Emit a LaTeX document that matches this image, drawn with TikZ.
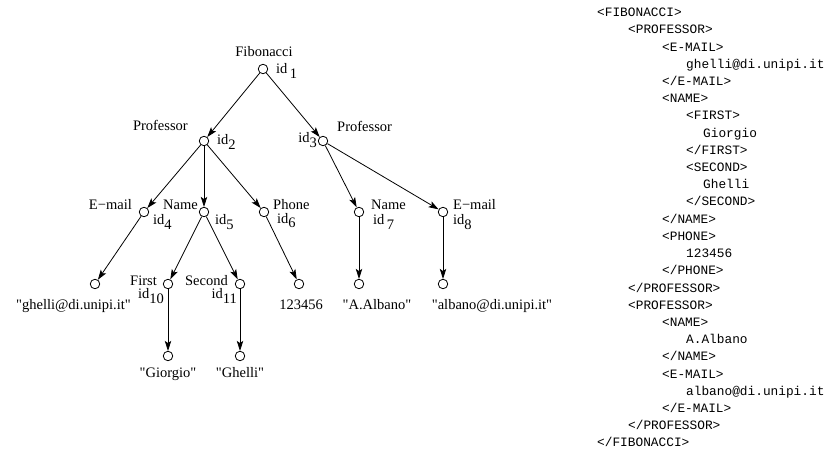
\documentclass[tikz,border=0pt]{standalone}
\usepackage{fontspec}
\setmainfont{Liberation Serif}[Ligatures=TeXOff]
\setmonofont{Liberation Mono}
\usetikzlibrary{arrows.meta}

% identifier with a lowered index
\newcommand{\idn}[1]{id\raisebox{-5pt}{#1}}
\newcommand{\idsp}[1]{id\,\raisebox{-5pt}{#1}}

\begin{document}
\begin{tikzpicture}[x=1pt,y=-1pt,
  vtx/.style={circle,draw,line width=0.8pt,minimum size=9.5pt,inner sep=0pt},
  edge/.style={line width=0.8pt,-{Stealth[length=10pt,width=6.5pt,inset=2.2pt]}},
  lbl/.style={inner sep=0pt,font=\fontsize{14.5}{17}\selectfont},
  xml/.style={inner sep=0pt,anchor=base west,font=\ttfamily\fontsize{12.8}{15}\selectfont}]
\useasboundingbox (0,0) rectangle (827,457);

% tree vertices
\node[vtx] (n1)  at (263,69)  {};
\node[vtx] (n2)  at (204,141) {};
\node[vtx] (n3)  at (323,141) {};
\node[vtx] (n4)  at (144,212) {};
\node[vtx] (n5)  at (204,212) {};
\node[vtx] (n6)  at (264,212) {};
\node[vtx] (n7)  at (359,212) {};
\node[vtx] (n8)  at (443,212) {};
\node[vtx] (v4)  at (95,284)  {};
\node[vtx] (n10) at (168,284) {};
\node[vtx] (n11) at (240,284) {};
\node[vtx] (v6)  at (299,284) {};
\node[vtx] (v7)  at (359,284) {};
\node[vtx] (v8)  at (443,284) {};
\node[vtx] (v10) at (168,356) {};
\node[vtx] (v11) at (240,356) {};

% tree edges
\draw[edge] (n1) -- (n2);
\draw[edge] (n1) -- (n3);
\draw[edge] (n2) -- (n4);
\draw[edge] (n2) -- (n5);
\draw[edge] (n2) -- (n6);
\draw[edge] (n3) -- (n7);
\draw[edge] (n3) -- (n8);
\draw[edge] (n4) -- (v4);
\draw[edge] (n5) -- (n10);
\draw[edge] (n5) -- (n11);
\draw[edge] (n6) -- (v6);
\draw[edge] (n7) -- (v7);
\draw[edge] (n8) -- (v8);
\draw[edge] (n10) -- (v10);
\draw[edge] (n11) -- (v11);

% tags and identifiers
\node[lbl,anchor=base]      (t1)  at (264,57)  {Fibonacci};
\node[lbl,anchor=base west] (i1)  at (276,74)  {\idsp{1}};
\node[lbl,anchor=base east] (t2)  at (188,131) {Professor};
\node[lbl,anchor=base west] (i2)  at (217,145) {\idn{2}};
\node[lbl,anchor=base east] (i3)  at (317,143) {\idn{3}};
\node[lbl,anchor=base west] (t3)  at (337,132) {Professor};
\node[lbl,anchor=base east] (t4)  at (132,210) {E−mail};
\node[lbl,anchor=base west] (i4)  at (153,225) {\idn{4}};
\node[lbl,anchor=base east] (t5)  at (198,210) {Name};
\node[lbl,anchor=base west] (i5)  at (215,225) {\idn{5}};
\node[lbl,anchor=base west] (t6)  at (273,210) {Phone};
\node[lbl,anchor=base west] (i6)  at (277,223) {\idn{6}};
\node[lbl,anchor=base west] (t7)  at (371,210) {Name};
\node[lbl,anchor=base west] (i7)  at (373,224.5) {\idsp{7}};
\node[lbl,anchor=base west] (t8)  at (453,210) {E−mail};
\node[lbl,anchor=base west] (i8)  at (453,224.5) {\idn{8}};
\node[lbl,anchor=base east] (t10) at (157,285) {First};
\node[lbl,anchor=base east] (i10) at (164,298) {\idn{10}};
\node[lbl,anchor=base east] (t11) at (228,285) {Second};
\node[lbl,anchor=base east] (i11) at (237,298) {\idn{11}};

% leaf values
\node[lbl,anchor=base east] (s4)  at (131,309) {"ghelli@di.unipi.it"};
\node[lbl,anchor=base]      (s6)  at (301,309) {123456};
\node[lbl,anchor=base]      (s7)  at (377,309) {"A.Albano"};
\node[lbl,anchor=base]      (s8)  at (492,309) {"albano@di.unipi.it"};
\node[lbl,anchor=base]      (s10) at (168,377) {"Giorgio"};
\node[lbl,anchor=base]      (s11) at (240,377) {"Ghelli"};

% XML listing
\def\la{597}\def\lb{628}\def\lc{662}\def\ld{686}\def\le{703}
\def\lh{17.2}\def\ly{16.8}
\node[xml] (x0)  at (\la,{\ly+\lh*0})  {<FIBONACCI>};
\node[xml] (x1)  at (\lb,{\ly+\lh*1})  {<PROFESSOR>};
\node[xml] (x2)  at (\lc,{\ly+\lh*2})  {<E-MAIL>};
\node[xml] (x3)  at (\ld,{\ly+\lh*3})  {ghelli@di.unipi.it};
\node[xml] (x4)  at (\lc,{\ly+\lh*4})  {</E-MAIL>};
\node[xml] (x5)  at (\lc,{\ly+\lh*5})  {<NAME>};
\node[xml] (x6)  at (\ld,{\ly+\lh*6})  {<FIRST>};
\node[xml] (x7)  at (\le,{\ly+\lh*7})  {Giorgio};
\node[xml] (x8)  at (\ld,{\ly+\lh*8})  {</FIRST>};
\node[xml] (x9)  at (\ld,{\ly+\lh*9})  {<SECOND>};
\node[xml] (x10) at (\le,{\ly+\lh*10}) {Ghelli};
\node[xml] (x11) at (\ld,{\ly+\lh*11}) {</SECOND>};
\node[xml] (x12) at (\lc,{\ly+\lh*12}) {</NAME>};
\node[xml] (x13) at (\lc,{\ly+\lh*13}) {<PHONE>};
\node[xml] (x14) at (\ld,{\ly+\lh*14}) {123456};
\node[xml] (x15) at (\lc,{\ly+\lh*15}) {</PHONE>};
\node[xml] (x16) at (\lb,{\ly+\lh*16}) {</PROFESSOR>};
\node[xml] (x17) at (\lb,{\ly+\lh*17}) {<PROFESSOR>};
\node[xml] (x18) at (\lc,{\ly+\lh*18}) {<NAME>};
\node[xml] (x19) at (\ld,{\ly+\lh*19}) {A.Albano};
\node[xml] (x20) at (\lc,{\ly+\lh*20}) {</NAME>};
\node[xml] (x21) at (\lc,{\ly+\lh*21}) {<E-MAIL>};
\node[xml] (x22) at (\ld,{\ly+\lh*22}) {albano@di.unipi.it};
\node[xml] (x23) at (\lc,{\ly+\lh*23}) {</E-MAIL>};
\node[xml] (x24) at (\lb,{\ly+\lh*24}) {</PROFESSOR>};
\node[xml] (x25) at (\la,{\ly+\lh*25}) {</FIBONACCI>};
\end{tikzpicture}
\end{document}
